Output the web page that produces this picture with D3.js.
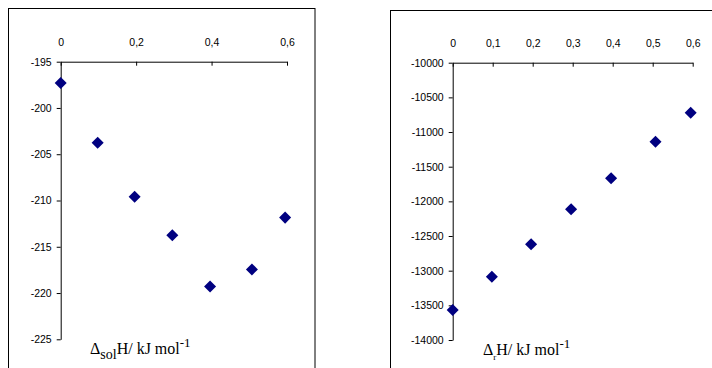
<!DOCTYPE html>
<html>
<head>
<meta charset="utf-8">
<script src="https://cdn.jsdelivr.net/npm/d3@7"></script>
<style>
  body { margin: 0; background: #fff; }
  .axis text { font-family: "Liberation Sans", Arial, sans-serif; font-size: 10.5px; fill: #000; }
  .axis path, .axis line { stroke: #000; }
  .title { font-family: "Liberation Serif", "Times New Roman", serif; font-size: 16px; fill: #000; }
</style>
</head>
<body>
<div id="chart"></div>
<script>
// data
var xFraction = [0, 0.098, 0.196, 0.296, 0.396, 0.507, 0.595];
var solH = [-197.3, -203.75, -209.6, -213.75, -219.3, -217.45, -211.85];
var rH = [-13567, -13087, -12620, -12115, -11668, -11140, -10721];

var leftXTicks = [0, 0.2, 0.4, 0.6];
var rightXTicks = [0, 0.1, 0.2, 0.3, 0.4, 0.5, 0.6];
var leftYTicks = [-195, -200, -205, -210, -215, -220, -225];
var rightYTicks = [-10000, -10500, -11000, -11500, -12000, -12500, -13000, -13500, -14000];

var svg = d3.select("#chart").append("svg")
    .attr("width", 712)
    .attr("height", 368);

function commaFmt(d){
    return d === 0 ? "0" : String(d).replace(".", ",");
}

function drawPanel(opt){
    // frame
    svg.append("rect")
        .attr("x", opt.frame[0])
        .attr("y", opt.frame[1])
        .attr("width", opt.frame[2])
        .attr("height", opt.frame[3])
        .style("fill", "none")
        .style("stroke", "#000")
        .style("stroke-width", 1);

    var x = d3.scaleLinear().domain([0, 0.6]).range(opt.xRange);
    var y = d3.scaleLinear().domain(opt.yDomain).range(opt.yRange);

    var xAxis = d3.axisTop(x)
        .tickValues(opt.xTicks)
        .tickFormat(commaFmt)
        .tickSizeInner(-4)
        .tickSizeOuter(0)
        .tickPadding(16);

    var yAxis = d3.axisLeft(y)
        .tickValues(opt.yTicks)
        .tickFormat(function(d){ return String(d); })
        .tickSizeInner(4)
        .tickSizeOuter(0)
        .tickPadding(5);

    svg.append("g")
        .attr("class", "axis")
        .attr("transform", "translate(0," + y(opt.yDomain[1]) + ")")
        .call(xAxis);

    svg.append("g")
        .attr("class", "axis")
        .attr("transform", "translate(" + x(0) + ",0)")
        .call(yAxis);

    // diamond markers
    var diamond = d3.symbol().type(d3.symbolDiamond2).size(92);
    svg.selectAll(null)
        .data(opt.values)
        .enter().append("path")
        .attr("d", diamond)
        .attr("transform", function(d, i){
            return "translate(" + x(xFraction[i]) + "," + y(d) + ")";
        })
        .style("fill", "#000080");

    // axis title
    var t = svg.append("text")
        .attr("class", "title")
        .attr("x", opt.titleX)
        .attr("y", opt.titleY);
    t.append("tspan").text("\u0394");
    t.append("tspan").attr("dy", 5).style("font-size", opt.subSize).text(opt.sub);
    t.append("tspan").attr("dy", -5).text("H/ kJ mol");
    t.append("tspan").attr("dy", -7).style("font-size", "13px").text("-1");
}

drawPanel({
    frame: [8.5, 8.5, 306.5, 400],
    xRange: [60.7, 287],
    yDomain: [-225, -195],
    yRange: [339.3, 61.7],
    xTicks: leftXTicks,
    yTicks: leftYTicks,
    values: solH,
    sub: "sol",
    subSize: "14px",
    titleX: 90,
    titleY: 354
});

drawPanel({
    frame: [390.5, 10.5, 400, 400],
    xRange: [452.7, 692.7],
    yDomain: [-14000, -10000],
    yRange: [340, 62.7],
    xTicks: rightXTicks,
    yTicks: rightYTicks,
    values: rH,
    sub: "r",
    subSize: "9px",
    titleX: 483,
    titleY: 355
});
</script>
</body>
</html>
